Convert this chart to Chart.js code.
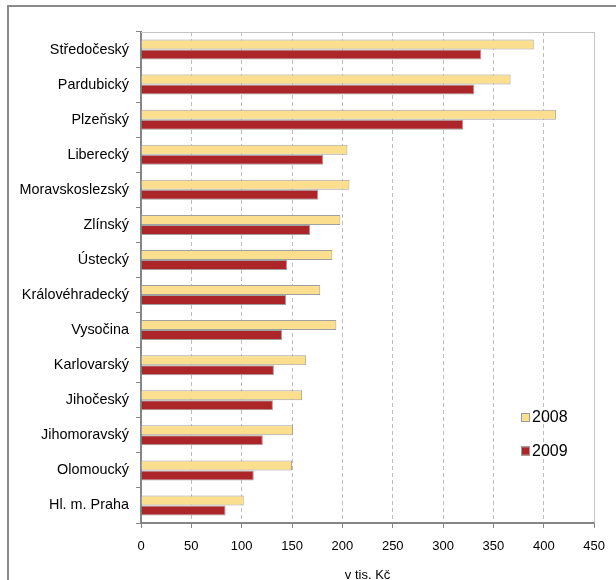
<!DOCTYPE html>
<html>
<head>
<meta charset="utf-8">
<script src="https://cdn.jsdelivr.net/npm/chart.js@4"></script>
<style>
  html, body { margin: 0; padding: 0; background: #fff; }
  #wrap { width: 616px; height: 580px; position: relative; }
</style>
</head>
<body>
<div id="wrap"><canvas id="c" width="616" height="580"></canvas></div>
<script>
const categories = ["Středočeský", "Pardubický", "Plzeňský", "Liberecký", "Moravskoslezský", "Zlínský", "Ústecký", "Královéhradecký", "Vysočina", "Karlovarský", "Jihočeský", "Jihomoravský", "Olomoucký", "Hl. m. Praha"];
const values2008 = [390, 367, 412, 205, 207, 198, 190, 178, 194, 164, 160, 151, 150, 102];
const values2009 = [338, 331, 320, 181, 176, 168, 145, 144, 140, 132, 131, 121, 112, 84];
const seriesNames = ["2008", "2009"];
const xTicks = [0, 50, 100, 150, 200, 250, 300, 350, 400, 450];
const axisTitle = "v tis. Kč";

const FONT = "'Liberation Sans', Arial, sans-serif";

const framePlugin = {
  id: 'frame',
  beforeDraw(chart) {
    const ctx = chart.ctx;
    ctx.save();
    ctx.strokeStyle = '#8a8a8a';
    ctx.lineWidth = 2;
    ctx.strokeRect(8, 6, 700, 700);
    ctx.restore();
  },
  beforeDatasetsDraw(chart) {
    const ctx = chart.ctx;
    const a = chart.chartArea;
    ctx.save();
    ctx.strokeStyle = '#c4c4c4';
    ctx.lineWidth = 1;
    ctx.beginPath();
    ctx.moveTo(a.left, Math.round(a.top) + 0.5);
    ctx.lineTo(Math.round(a.right) + 0.5, Math.round(a.top) + 0.5);
    ctx.lineTo(Math.round(a.right) + 0.5, a.bottom);
    ctx.stroke();
    ctx.restore();
  }
};

const legendPlugin = {
  id: 'customLegend',
  afterDraw(chart) {
    const ctx = chart.ctx;
    const ys = [417.5, 451];
    ctx.save();
    chart.data.datasets.forEach((ds, i) => {
      const y = ys[i];
      ctx.fillStyle = ds.backgroundColor;
      ctx.fillRect(521, y - 4.5, 9, 9);
      ctx.strokeStyle = '#9a9a9a';
      ctx.lineWidth = 1;
      ctx.strokeRect(521.5, y - 4, 8, 8);
      ctx.fillStyle = '#000';
      ctx.font = '16px ' + FONT;
      ctx.textAlign = 'left';
      ctx.textBaseline = 'middle';
      ctx.fillText(ds.label, 532, y + 0.5);
    });
    ctx.restore();
  }
};

new Chart(document.getElementById('c'), {
  type: 'bar',
  data: {
    labels: categories,
    datasets: [
      { label: seriesNames[0], data: values2008, backgroundColor: '#fbde8e', borderColor: '#a0a0a0', borderWidth: 1 },
      { label: seriesNames[1], data: values2009, backgroundColor: '#ac2629', borderColor: '#a0a0a0', borderWidth: 1 }
    ]
  },
  options: {
    indexAxis: 'y',
    responsive: false,
    animation: false,
    devicePixelRatio: 1,
    layout: { padding: { left: 0, top: 32, right: 16, bottom: 0 } },
    datasets: { bar: { categoryPercentage: 0.57, barPercentage: 1.0 } },
    plugins: { legend: { display: false }, tooltip: { enabled: false }, title: { display: false } },
    scales: {
      x: {
        type: 'linear',
        min: 0, max: 450,
        afterFit(scale) { scale.height = 57; },
        afterBuildTicks(scale) { scale.ticks = xTicks.map(v => ({ value: v })); },
        ticks: { color: '#000', font: { family: FONT, size: 13 }, padding: 11, maxRotation: 0, autoSkip: false },
        grid: { color: '#bdbdbd', lineWidth: 1, drawOnChartArea: true, drawTicks: true, tickLength: 5, tickColor: '#868686', tickWidth: 1 },
        border: { display: true, color: '#868686', width: 2, dash: [4, 3] },
        title: { display: true, text: axisTitle, color: '#000', font: { family: FONT, size: 13 }, padding: { top: 0, bottom: -3 } }
      },
      y: {
        afterFit(scale) { scale.width = 141; },
        ticks: { color: '#000', font: { family: FONT, size: 14.4 }, padding: 7, autoSkip: false },
        grid: { drawOnChartArea: false, drawTicks: true, tickLength: 5, tickColor: '#868686', tickWidth: 1, offset: true },
        border: { display: true, color: '#868686', width: 2 }
      }
    }
  },
  plugins: [framePlugin, legendPlugin]
});
</script>
</body>
</html>
